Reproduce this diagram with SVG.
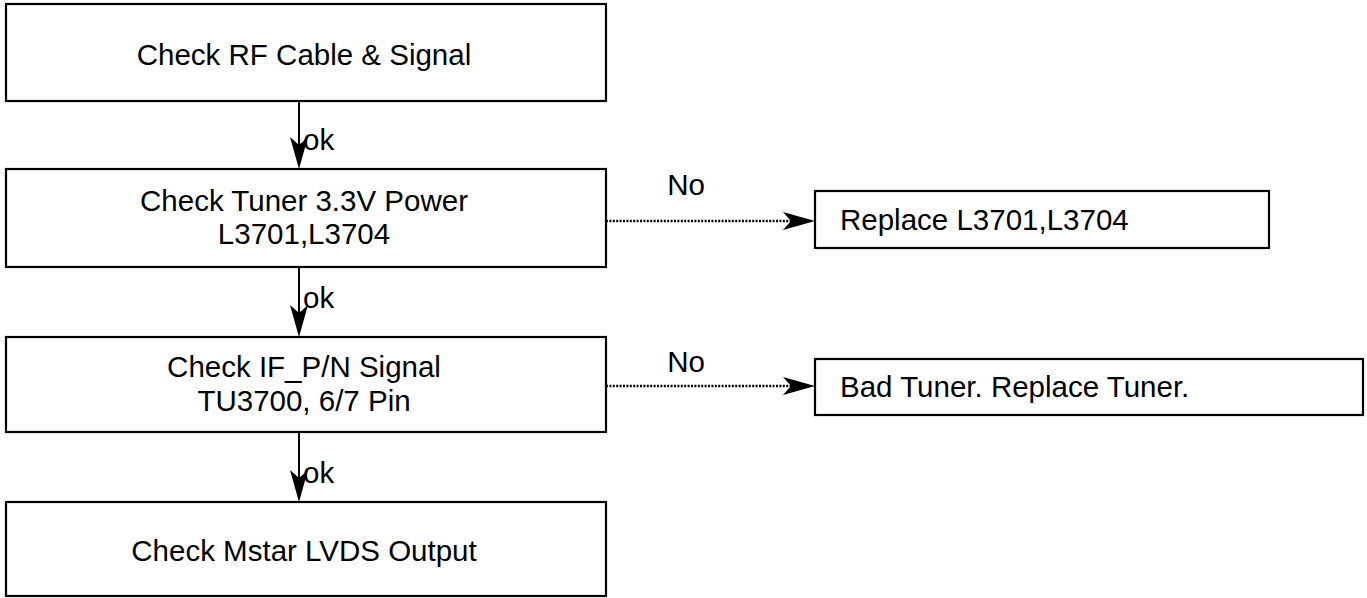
<svg xmlns="http://www.w3.org/2000/svg" width="1367" height="598" viewBox="0 0 1367 598">
<style>
.box{fill:#fff;stroke:#000;stroke-width:2.2}
.t{font-family:"Liberation Sans",Arial,sans-serif;font-size:29.5px;fill:#000}
.c{text-anchor:middle}
.ln{stroke:#000;stroke-width:2;fill:none}
.dot{stroke:#000;stroke-width:2.4;fill:none;stroke-dasharray:2 1.4}
</style>
<defs>
<marker id="ah" viewBox="-23 -10 34 20" refX="0" refY="0" markerWidth="34" markerHeight="20" markerUnits="userSpaceOnUse" orient="auto">
<path d="M10,0 L-22,-9 L-14,0 L-22,9 Z" fill="#000"/>
</marker>
</defs>
<rect width="1367" height="598" fill="#fff"/>
<g id="n1">
<rect class="box" x="6" y="4" width="600" height="97"/>
<text class="t c" x="304" y="65">Check RF Cable &amp; Signal</text>
</g>
<g id="n2">
<rect class="box" x="6" y="169" width="600" height="98"/>
<text class="t c" x="304" y="211">Check Tuner 3.3V Power</text>
<text class="t c" x="304" y="244">L3701,L3704</text>
</g>
<g id="n3">
<rect class="box" x="6" y="337" width="600" height="95"/>
<text class="t c" x="304" y="377">Check IF_P/N Signal</text>
<text class="t c" x="304" y="411">TU3700, 6/7 Pin</text>
</g>
<g id="n4">
<rect class="box" x="6" y="502" width="600" height="94"/>
<text class="t c" x="304" y="561">Check Mstar LVDS Output</text>
</g>
<g id="n5">
<rect class="box" x="815" y="191" width="454" height="57"/>
<text class="t" x="840" y="230">Replace L3701,L3704</text>
</g>
<g id="n6">
<rect class="box" x="815" y="359" width="548" height="56"/>
<text class="t" x="840" y="397">Bad Tuner. Replace Tuner.</text>
</g>
<g id="connectors">
<line class="ln" x1="299" y1="101" x2="299" y2="159" marker-end="url(#ah)"/>
<line class="ln" x1="299" y1="267" x2="299" y2="327" marker-end="url(#ah)"/>
<line class="ln" x1="299" y1="432" x2="299" y2="492" marker-end="url(#ah)"/>
<line class="dot" x1="606" y1="221" x2="805" y2="221" marker-end="url(#ah)"/>
<line class="dot" x1="606" y1="386" x2="805" y2="386" marker-end="url(#ah)"/>
<text class="t" x="303" y="150">ok</text>
<text class="t" x="303" y="308">ok</text>
<text class="t" x="303" y="483">ok</text>
<text class="t c" x="686" y="195">No</text>
<text class="t c" x="686" y="372">No</text>
</g>
</svg>
